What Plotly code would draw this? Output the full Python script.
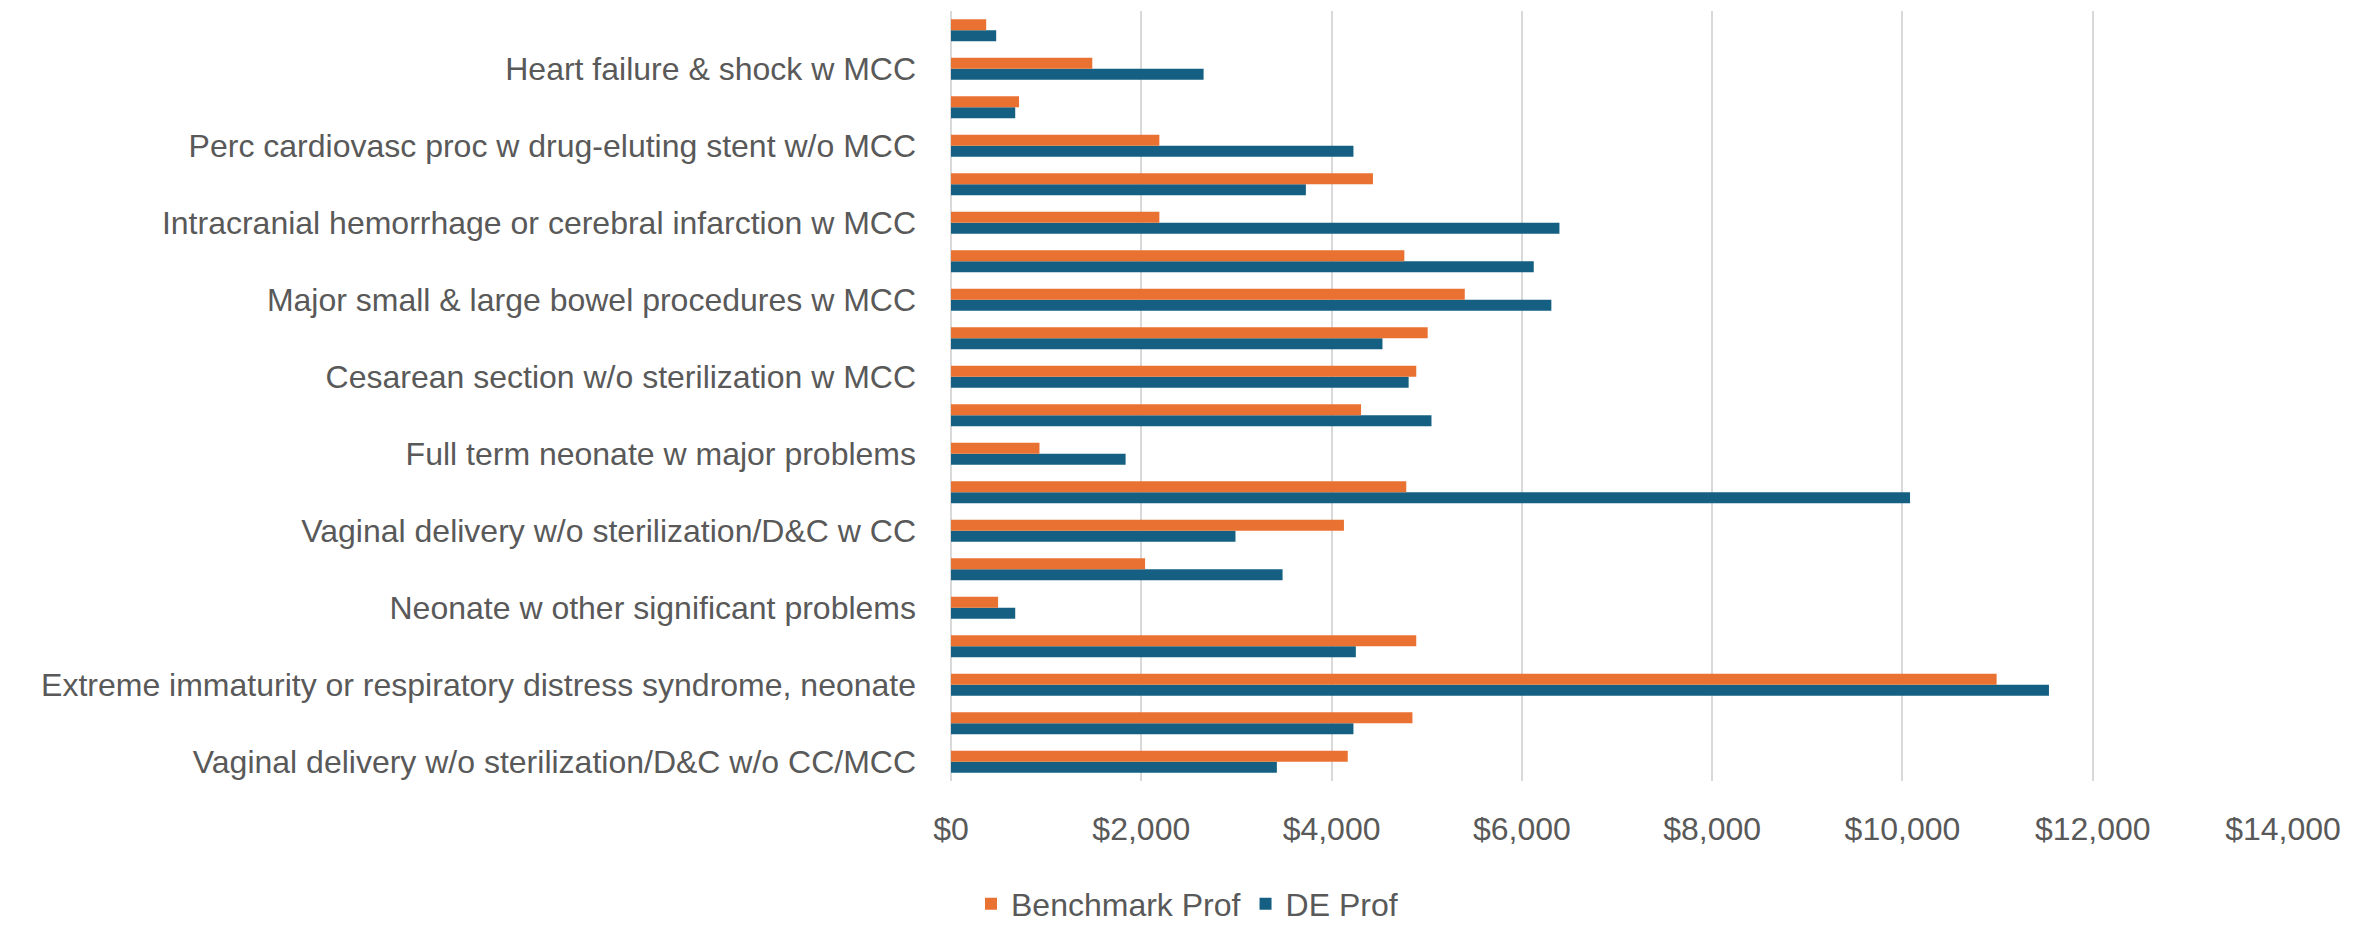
import plotly.graph_objects as go

# Categories, bottom to top (blank = label not shown on the axis in the original)
categories = [
    "Vaginal delivery w/o sterilization/D&C w/o CC/MCC",
    "",
    "Extreme immaturity or respiratory distress syndrome, neonate",
    "",
    "Neonate w other significant problems",
    "",
    "Vaginal delivery w/o sterilization/D&C w CC",
    "",
    "Full term neonate w major problems",
    "",
    "Cesarean section w/o sterilization w MCC",
    "",
    "Major small & large bowel procedures w MCC",
    "",
    "Intracranial hemorrhage or cerebral infarction w MCC",
    "",
    "Perc cardiovasc proc w drug-eluting stent w/o MCC",
    "",
    "Heart failure & shock w MCC",
    "",
]

benchmark_prof = [4170, 4850, 10990, 4890, 495, 2040, 4130, 4785, 930, 4310,
                  4890, 5010, 5400, 4765, 2190, 4435, 2190, 715, 1485, 370]
de_prof = [3425, 4230, 11540, 4255, 675, 3485, 2990, 10080, 1835, 5050,
           4810, 4535, 6310, 6125, 6395, 3730, 4230, 675, 2655, 475]

x_ticks = [0, 2000, 4000, 6000, 8000, 10000, 12000, 14000]
x_tick_labels = ["$0", "$2,000", "$4,000", "$6,000", "$8,000", "$10,000", "$12,000", "$14,000"]

positions = list(range(len(categories)))
label_pos = [p for p, c in zip(positions, categories) if c]
label_txt = [c for c in categories if c]

ORANGE = "#E97132"
BLUE = "#156082"
TEXT = "#595959"
GRID = "#D9D9D9"
FONT = "Liberation Sans"

fig = go.Figure()
fig.add_trace(go.Bar(
    y=positions, x=de_prof, orientation="h", name="DE Prof",
    marker=dict(color=BLUE, line=dict(width=0)), legendrank=2,
))
fig.add_trace(go.Bar(
    y=positions, x=benchmark_prof, orientation="h", name="Benchmark Prof",
    marker=dict(color=ORANGE, line=dict(width=0)), legendrank=1,
))

fig.update_layout(
    width=2374, height=927,
    barmode="group", bargap=0.43, bargroupgap=0,
    paper_bgcolor="white", plot_bgcolor="white",
    font=dict(family=FONT, size=32, color=TEXT),
    margin=dict(l=951, r=91, t=11, b=146, autoexpand=False),
    showlegend=True,
    legend=dict(
        orientation="h", xref="container", yref="container",
        x=0.5, xanchor="center", y=0.025, yanchor="middle",
        font=dict(family=FONT, size=32, color=TEXT),
        itemsizing="constant", tracegroupgap=0,
    ),
)
fig.update_xaxes(
    range=[0, 14000], tickvals=x_ticks, ticktext=x_tick_labels,
    showgrid=True, gridcolor=GRID, gridwidth=2,
    zeroline=True, zerolinecolor=GRID, zerolinewidth=2,
    showline=False, ticks="", ticklabelstandoff=26,
    tickfont=dict(family=FONT, size=32, color=TEXT),
    fixedrange=True,
)
fig.update_yaxes(
    range=[-0.5, len(categories) - 0.5],
    tickvals=label_pos, ticktext=label_txt,
    showgrid=False, zeroline=False, showline=False, ticks="",
    ticklabelstandoff=34,
    tickfont=dict(family=FONT, size=32, color=TEXT),
    fixedrange=True,
)

fig.write_html(
    "out.html",
    config={"displayModeBar": False},
    post_script="document.body.style.margin='0';document.body.style.overflow='hidden';",
)
